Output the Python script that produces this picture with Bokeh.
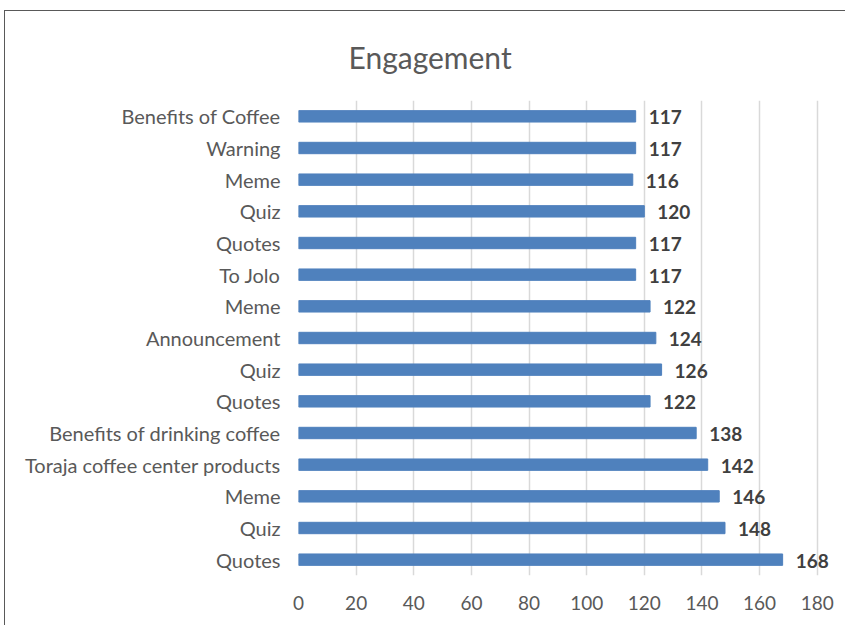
from bokeh.plotting import figure
from bokeh.models import ColumnDataSource, LabelSet, FixedTicker, Range1d
from bokeh.core.properties import value
from bokeh.embed import file_html
from bokeh.resources import INLINE

# Data (top to bottom as shown in the chart)
title_text = "Engagement"
categories = ["Benefits of Coffee", "Warning", "Meme", "Quiz", "Quotes", "To Jolo",
              "Meme", "Announcement", "Quiz", "Quotes", "Benefits of drinking coffee",
              "Toraja coffee center products", "Meme", "Quiz", "Quotes"]
engagement = [117, 117, 116, 120, 117, 117, 122, 124, 126, 122, 138, 142, 146, 148, 168]
x_ticks = [0, 20, 40, 60, 80, 100, 120, 140, 160, 180]

n = len(categories)
ypos = [n - 1 - i for i in range(n)]
source = ColumnDataSource(dict(y=ypos, v=engagement, lab=[str(v) for v in engagement]))

FONT = "Lato"
W, H = 841, 615
p = figure(width=W, height=H, output_backend="svg", toolbar_location=None,
           x_range=Range1d(0, 186), y_range=Range1d(-0.5, n - 0.5),
           min_border_left=293, min_border_right=12, min_border_top=88, min_border_bottom=51)
p.styles = {"margin-left": "4px", "margin-top": "10px",
            "border-left": "1px solid #595959", "border-top": "1px solid #595959"}

p.hbar(y="y", right="v", left=0, height=0.36, color="#4f81bd", source=source)

labels = LabelSet(x="v", y="y", text="lab", source=source, x_offset=13, y_offset=-1,
                  text_baseline="middle", text_align="left",
                  text_font=value(FONT), text_font_style="bold", text_font_size="19px",
                  text_color="#404040")
p.add_layout(labels)

p.title.text = title_text
p.title.align = "left"
p.title.offset = 50
p.title.text_font = FONT
p.title.text_font_size = "30px"
p.title.text_font_style = "normal"
p.title.text_color = "#595959"
p.title.standoff = 51

p.xaxis.ticker = FixedTicker(ticks=x_ticks)
p.yaxis.ticker = FixedTicker(ticks=ypos)
p.yaxis.major_label_overrides = {y: c for y, c in zip(ypos, categories)}

for ax in (p.xaxis[0], p.yaxis[0]):
    ax.axis_line_color = None
    ax.major_tick_line_color = None
    ax.minor_tick_line_color = None
    ax.major_label_text_font = FONT
    ax.major_label_text_color = "#595959"
p.yaxis.major_label_text_font_size = "20px"
p.xaxis.major_label_text_font_size = "19px"
p.xaxis.major_label_standoff = 14
p.yaxis.major_label_standoff = 12

p.ygrid.grid_line_color = None
p.xgrid.grid_line_color = "#d9d9d9"
p.xgrid.grid_line_width = 1.5
p.outline_line_color = None

open("out.html", "w").write(file_html(p, INLINE))
